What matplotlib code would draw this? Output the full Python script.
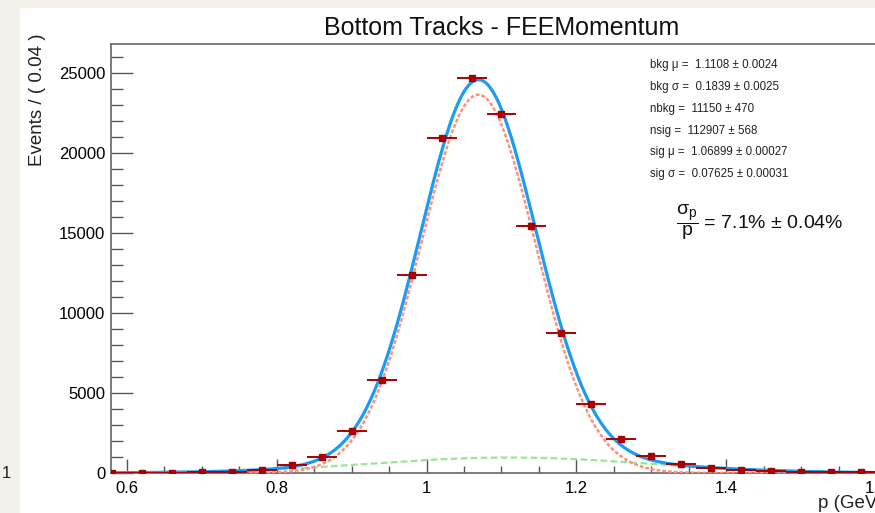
import numpy as np
import matplotlib
matplotlib.use("Agg")
import matplotlib.pyplot as plt
from matplotlib.patches import Rectangle
from matplotlib.ticker import MultipleLocator

plt.rcParams['font.family'] = ['Liberation Sans', 'DejaVu Sans']
plt.rcParams['mathtext.fontset'] = 'custom'
plt.rcParams['mathtext.rm'] = 'Liberation Sans'
plt.rcParams['mathtext.it'] = 'Liberation Sans'
plt.rcParams['mathtext.bf'] = 'Liberation Sans:bold'

# binned data (bin width 0.04 GeV)
bin_centers = [0.58, 0.62, 0.66, 0.70, 0.74, 0.78, 0.82, 0.86, 0.90, 0.94, 0.98, 1.02, 1.06,
               1.10, 1.14, 1.18, 1.22, 1.26, 1.30, 1.34, 1.38, 1.42, 1.46, 1.50, 1.54, 1.58]
events = [20, 15, 20, 35, 70, 180, 480, 1000, 2600, 5800, 12400, 20900, 24650,
          22450, 15400, 8750, 4300, 2150, 1050, 580, 300, 190, 120, 90, 60, 40]
bin_width = 0.04

# fit results as printed on the plot
bkg_mu, bkg_sigma, n_bkg = 1.1108, 0.1839, 11150
sig_mu, sig_sigma, n_sig = 1.06899, 0.07625, 112907

param_lines = [
    "bkg \u03bc =  1.1108 \u00b1 0.0024",
    "bkg \u03c3 =  0.1839 \u00b1 0.0025",
    "nbkg =  11150 \u00b1 470",
    "nsig =  112907 \u00b1 568",
    "sig \u03bc =  1.06899 \u00b1 0.00027",
    "sig \u03c3 =  0.07625 \u00b1 0.00031",
]


def gauss_counts(x, n, mu, sigma):
    return n * bin_width / (np.sqrt(2 * np.pi) * sigma) * np.exp(-0.5 * ((x - mu) / sigma) ** 2)


W, H = 875, 513
fig = plt.figure(figsize=(W / 100, H / 100), dpi=100, facecolor='#f4f1ea')
# white canvas of the screenshot
fig.patches.append(Rectangle((20 / W, 0), (W - 20) / W, (H - 8) / H, transform=fig.transFigure,
                             facecolor='white', edgecolor='none', zorder=-10))
fig.text(2 / W, 1 - 474 / H, "1", fontsize=12, va='center', ha='left', color='#222222')

ax = fig.add_axes([111 / W, 40 / H, (877 - 111) / W, (473 - 44) / H])
ax.set_facecolor('white')

xs = np.linspace(0.579, 1.601, 600)
bkg = gauss_counts(xs, n_bkg, bkg_mu, bkg_sigma)
sig = gauss_counts(xs, n_sig, sig_mu, sig_sigma)

ax.plot(xs, bkg, color='#9be49a', lw=1.6, ls=(0, (3, 1.5)), zorder=2)
ax.plot(xs, sig, color='#ff8f80', lw=1.8, ls=(0, (1.5, 0.8)), zorder=3)
ax.plot(xs, bkg + sig, color='#1a9cf5', lw=2.3, zorder=4)

yerr = np.sqrt(np.array(events, dtype=float))
ax.errorbar(bin_centers, events, xerr=bin_width / 2, yerr=yerr, fmt='s', color='#a80000',
            ms=5, lw=1.4, capsize=0, zorder=5, clip_on=True)

ax.set_xlim(0.579, 1.601)
ax.set_ylim(0, 26800)

ax.xaxis.set_major_locator(MultipleLocator(0.2))
ax.xaxis.set_minor_locator(MultipleLocator(0.05))
ax.yaxis.set_major_locator(MultipleLocator(5000))
ax.yaxis.set_minor_locator(MultipleLocator(1000))
ax.set_xticks([0.6, 0.8, 1.0, 1.2, 1.4, 1.6])
ax.set_xticklabels(['0.6', '0.8', '1', '1.2', '1.4', '1.6'])

ax.tick_params(axis='y', which='major', direction='in', length=16, width=1, color='#555555',
               labelsize=12, pad=4)
ax.tick_params(axis='y', which='minor', direction='in', length=8.5, width=1, color='#555555')
ax.tick_params(axis='x', which='major', direction='in', length=10, width=1, color='#555555',
               labelsize=12, pad=6)
ax.tick_params(axis='x', which='minor', direction='in', length=5, width=1, color='#555555')

for s in ax.spines.values():
    s.set_color('#666666')
    s.set_linewidth(1.2)

fig.text(502 / W, 1 - 28 / H, "Bottom Tracks - FEEMomentum", fontsize=18, ha='center', va='center',
         color='#111111')
fig.text(37 / W, 1 - 100 / H, "Events / ( 0.04 )", fontsize=13.5, rotation=90, ha='center',
         va='center', color='#222222')
fig.text(818 / W, 1 - 503 / H, "p (GeV)", fontsize=13.5, ha='left', va='center', color='#222222')

row_y = [65, 87, 109, 131, 152, 174]
for line, yy in zip(param_lines, row_y):
    fig.text(650 / W, 1 - yy / H, line, fontsize=8.3, ha='left', va='center', color='#222222')

fig.text(676 / W, 1 - 222 / H, r'$\dfrac{\sigma_{\mathrm{p}}}{\mathrm{p}}$ = 7.1% $\pm$ 0.04%',
         fontsize=14, ha='left', va='center', color='#111111')

fig.savefig('out.png', dpi=100, facecolor=fig.get_facecolor())
